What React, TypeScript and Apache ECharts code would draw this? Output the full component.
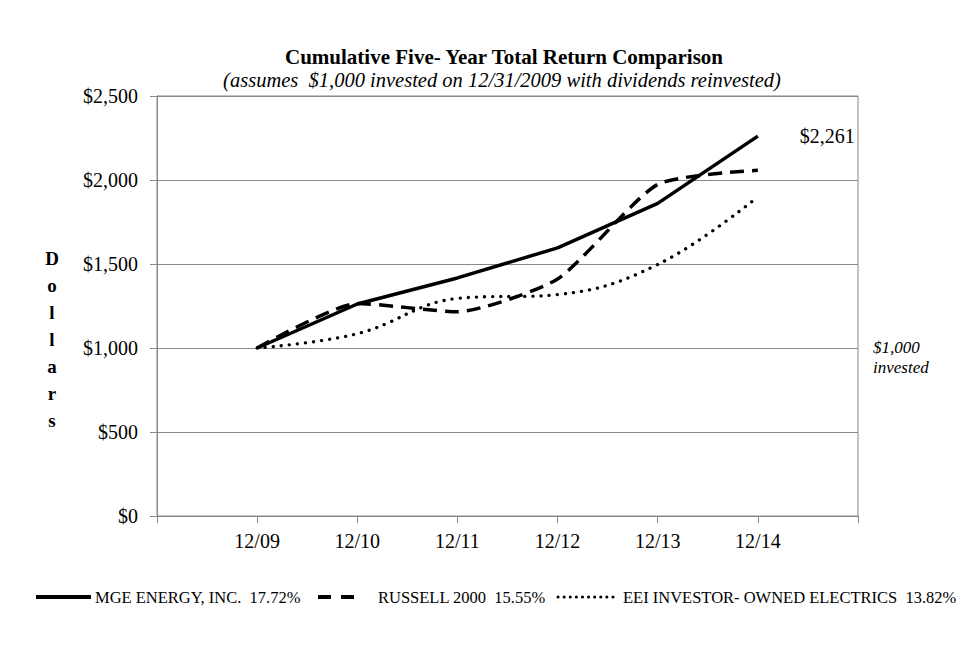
import React, { useEffect, useRef } from "react";
import * as echarts from "echarts";

const years = ["12/09", "12/10", "12/11", "12/12", "12/13", "12/14"];
const categories = ["", ...years, ""];
const mgeValues = [1000, 1262, 1417, 1596, 1861, 2261];
const russellValues = [1000, 1265, 1216, 1411, 1974, 2058];
const eeiValues = [1000, 1085, 1295, 1318, 1497, 1900];
const seriesNames = [
  "MGE ENERGY, INC.  17.72%",
  "RUSSELL 2000  15.55%",
  "EEI INVESTOR- OWNED ELECTRICS  13.82%",
];
const yTicks = { min: 0, max: 2500, interval: 500 };

const FONT = "Liberation Serif";

function pad(arr: number[]) {
  return [null, ...arr, null];
}

export default function App() {
  const ref = useRef<HTMLDivElement>(null);
  useEffect(() => {
    if (!ref.current) return;
    const chart = echarts.init(ref.current, null, { renderer: "svg" });
    const letters = "Dollars".split("");
    const legendText = (text: string, x: number) => ({
      type: "text",
      x,
      y: 597,
      style: {
        text,
        fontFamily: FONT,
        fontSize: 16.5,
        fill: "#000",
        verticalAlign: "middle",
      },
    });
    const graphic: any[] = [
      {
        type: "text",
        x: 504,
        y: 57,
        style: {
          text: "Cumulative Five- Year Total Return Comparison",
          fontFamily: FONT,
          fontWeight: "bold",
          fontSize: 21,
          fill: "#000",
          align: "center",
          verticalAlign: "middle",
        },
      },
      {
        type: "text",
        x: 502,
        y: 80,
        style: {
          text: "(assumes  $1,000 invested on 12/31/2009 with dividends reinvested)",
          fontFamily: FONT,
          fontStyle: "italic",
          fontSize: 20.5,
          fill: "#000",
          align: "center",
          verticalAlign: "middle",
        },
      },
      ...letters.map((ch, i) => ({
        type: "text",
        x: 52,
        y: 258 + i * 27,
        style: {
          text: ch,
          fontFamily: FONT,
          fontWeight: "bold",
          fontSize: 19,
          fill: "#000",
          align: "center",
          verticalAlign: "middle",
        },
      })),
      {
        type: "text",
        x: 873,
        y: 347,
        style: {
          text: "$1,000",
          fontFamily: FONT,
          fontStyle: "italic",
          fontSize: 17,
          fill: "#000",
          verticalAlign: "middle",
        },
      },
      {
        type: "text",
        x: 873,
        y: 367,
        style: {
          text: "invested",
          fontFamily: FONT,
          fontStyle: "italic",
          fontSize: 17,
          fill: "#000",
          verticalAlign: "middle",
        },
      },
      // legend
      {
        type: "line",
        shape: { x1: 36, y1: 597, x2: 91, y2: 597 },
        style: { stroke: "#000", lineWidth: 4 },
      },
      legendText(seriesNames[0], 95),
      {
        type: "line",
        shape: { x1: 318, y1: 597, x2: 358, y2: 597 },
        style: { stroke: "#000", lineWidth: 4, lineDash: [13, 10] },
      },
      legendText(seriesNames[1], 378),
      {
        type: "line",
        shape: { x1: 558, y1: 597, x2: 617, y2: 597 },
        style: { stroke: "#000", lineWidth: 3, lineDash: [0.1, 6], lineCap: "round" },
      },
      legendText(seriesNames[2], 623),
    ];
    chart.setOption({
      animation: false,
      backgroundColor: "#fff",
      grid: {
        left: 157,
        right: 117,
        top: 96,
        bottom: 138,
        show: true,
        borderColor: "#888",
        borderWidth: 1,
      },
      xAxis: {
        type: "category",
        data: categories,
        boundaryGap: false,
        axisLine: { lineStyle: { color: "#888", width: 1 } },
        axisTick: { show: true, length: 7, lineStyle: { color: "#888" }, interval: 0 },
        axisLabel: {
          interval: 0,
          margin: 15,
          fontFamily: FONT,
          fontSize: 20,
          color: "#000",
        },
        splitLine: { show: false },
      },
      yAxis: {
        type: "value",
        min: yTicks.min,
        max: yTicks.max,
        interval: yTicks.interval,
        axisLine: { show: true, lineStyle: { color: "#888", width: 1 } },
        axisTick: { show: true, length: 7, lineStyle: { color: "#888" } },
        axisLabel: {
          margin: 19,
          fontFamily: FONT,
          fontSize: 20,
          color: "#000",
          formatter: (v: number) => "$" + v.toLocaleString("en-US"),
        },
        splitLine: { show: true, lineStyle: { color: "#888", width: 1 } },
      },
      series: [
        {
          name: seriesNames[0],
          type: "line",
          data: pad(mgeValues),
          showSymbol: false,
          symbol: "none",
          lineStyle: { color: "#000", width: 3.5 },
          endLabel: {
            show: true,
            distance: 42,
            formatter: (p: any) => "$" + Number(p.value).toLocaleString("en-US"),
            fontFamily: FONT,
            fontSize: 20,
            color: "#000",
          },
          z: 3,
        },
        {
          name: seriesNames[1],
          type: "line",
          data: pad(russellValues),
          smooth: 0.2,
          showSymbol: false,
          symbol: "none",
          lineStyle: { color: "#000", width: 3.5, type: [14, 8] },
          z: 2,
        },
        {
          name: seriesNames[2],
          type: "line",
          data: pad(eeiValues),
          smooth: 0.4,
          showSymbol: false,
          symbol: "none",
          lineStyle: { color: "#000", width: 3.3, type: [0.1, 8], cap: "round" },
          z: 1,
        },
      ],
      graphic,
    });
    return () => chart.dispose();
  }, []);
  return (
    <div
      ref={ref}
      style={{ position: "fixed", left: 0, top: 0, width: 975, height: 654, background: "#fff" }}
    />
  );
}
